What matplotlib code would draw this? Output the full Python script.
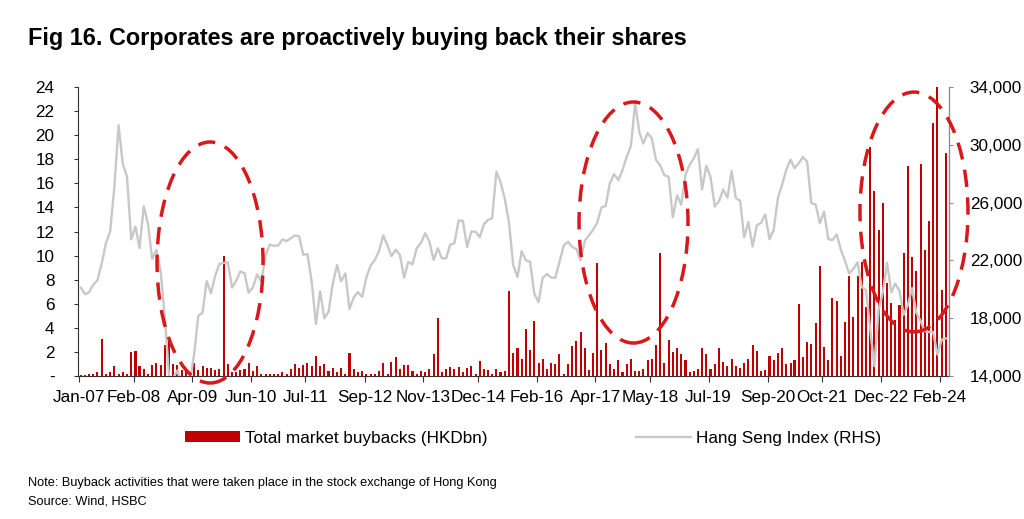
import numpy as np
import pandas as pd
import matplotlib
matplotlib.use("Agg")
import matplotlib.pyplot as plt
import matplotlib.ticker as mticker
import matplotlib.dates as mdates
from matplotlib.patches import Ellipse

plt.rcParams['font.family'] = ['Liberation Sans', 'DejaVu Sans']

# monthly data, Jan-07 .. Mar-24 (mid-month positions)
months = pd.date_range('2007-01-01', '2024-03-01', freq='MS') + pd.Timedelta(days=14)

# total market buybacks, HKD bn
buybacks = [
    0.1, 0.1, 0.15, 0.2, 0.35, 3.1, 0.2, 0.3, 0.8, 0.2, 0.3, 0.2,      # 2007
    2.0, 2.1, 0.8, 0.6, 0.2, 0.9, 1.1, 0.9, 2.6, 3.0, 1.0, 0.9,        # 2008
    0.5, 0.55, 0.1, 1.1, 0.5, 0.8, 0.7, 0.7, 0.5, 0.6, 10.0, 1.0,      # 2009
    0.3, 0.3, 0.5, 0.6, 1.1, 0.45, 0.8, 0.2, 0.15, 0.2, 0.15, 0.2,     # 2010
    0.3, 0.2, 0.55, 1.0, 0.7, 0.9, 1.1, 0.8, 1.7, 0.8, 1.0, 0.45,      # 2011
    0.7, 0.35, 0.7, 0.2, 1.9, 0.6, 0.3, 0.45, 0.2, 0.2, 0.2, 0.45,     # 2012
    1.05, 0.2, 1.15, 1.6, 0.6, 0.95, 0.95, 0.4, 0.2, 0.4, 0.3, 0.55,   # 2013
    1.86, 4.85, 0.3, 0.6, 0.75, 0.6, 0.75, 0.3, 0.7, 0.8, 0.2, 1.25,   # 2014
    0.55, 0.5, 0.2, 0.6, 0.35, 0.4, 7.05, 1.95, 2.3, 1.4, 3.9, 2.2,    # 2015
    4.6, 1.05, 1.4, 0.55, 1.05, 1.0, 1.8, 0.2, 1.0, 2.5, 2.9, 3.65,    # 2016
    2.3, 0.5, 1.95, 9.35, 2.15, 2.7, 1.0, 0.6, 1.35, 0.3, 1.0, 1.45,   # 2017
    0.4, 0.4, 0.6, 1.35, 1.45, 2.6, 10.2, 1.05, 3.0, 2.0, 2.3, 1.8,    # 2018
    1.3, 0.3, 0.4, 0.6, 2.35, 1.8, 0.6, 1.0, 2.3, 1.2, 0.8, 1.45,      # 2019
    0.8, 0.65, 1.1, 1.4, 2.6, 2.1, 0.45, 0.5, 1.65, 1.3, 1.9, 2.35,    # 2020
    1.0, 1.05, 1.3, 6.0, 1.55, 2.85, 2.65, 4.4, 9.1, 2.4, 1.3, 6.45,   # 2021
    6.2, 1.65, 4.5, 8.3, 4.9, 8.3, 9.5, 5.7, 19.05, 15.4, 12.1, 14.35, # 2022
    7.75, 6.1, 4.65, 5.9, 10.2, 17.45, 9.9, 8.75, 17.6, 10.5, 12.9, 21.05,  # 2023
    24.0, 7.15, 18.5,                                                  # 2024
]

# Hang Seng Index, month end
hsi = [
    20107, 19652, 19801, 20319, 20634, 21773, 23185, 23984, 27143, 31352, 28643, 27813,
    23456, 24332, 22849, 25755, 24533, 22102, 22731, 21262, 18016, 13969, 13888, 14387,
    13278, 12812, 13576, 15521, 18171, 18379, 20573, 19724, 20955, 21753, 21821, 21873,
    20122, 20609, 21239, 21108, 19765, 20129, 21029, 20536, 22358, 23096, 23007, 23035,
    23447, 23338, 23528, 23720, 23684, 22398, 22440, 20535, 17592, 19864, 17989, 18434,
    20390, 21680, 20556, 21095, 18630, 19441, 19796, 19483, 20840, 21642, 22030, 22657,
    23730, 23020, 22300, 22737, 22392, 20803, 21883, 21731, 22860, 23206, 23881, 23306,
    22035, 22837, 22151, 22134, 23082, 23191, 24757, 24742, 22933, 23998, 23987, 23605,
    24507, 24823, 24901, 28133, 27424, 26250, 24636, 21671, 20846, 22640, 21996, 21914,
    19683, 19112, 20777, 21067, 20815, 20794, 21891, 23023, 23297, 22935, 22790, 22001,
    23361, 23741, 24112, 24615, 25661, 25765, 27324, 27970, 27554, 28246, 29177, 29919,
    32887, 30845, 30093, 30808, 30469, 28955, 28583, 27889, 27789, 24980, 26507, 25846,
    27942, 28633, 29051, 29699, 26901, 28543, 27778, 25725, 26092, 26907, 26346, 28190,
    26313, 26130, 23603, 24644, 22961, 24427, 24595, 25177, 23459, 24107, 26341, 27231,
    28284, 28980, 28378, 28725, 29152, 28828, 25961, 25879, 24576, 25377, 23475, 23398,
    23802, 22713, 21997, 21089, 21415, 21860, 20157, 19954, 17223, 14687, 18597, 19781,
    21842, 19786, 20400, 19895, 18234, 18916, 20079, 18382, 17810, 17112, 17043, 17047,
    15485, 16511, 16600,
]

tick_months = ['2007-01', '2008-02', '2009-04', '2010-06', '2011-07', '2012-09',
               '2013-11', '2014-12', '2016-02', '2017-04', '2018-05', '2019-07',
               '2020-09', '2021-10', '2022-12', '2024-02']

fig = plt.figure(figsize=(10.24, 5.19), dpi=100)
ax = fig.add_axes([78/1024, 1-376/519, 871/1024, 289/519])
ax2 = ax.twinx()

ax.bar(months, buybacks, width=15, color='#C00000', linewidth=0,
       label='Total market buybacks (HKDbn)')
ax2.plot(months, hsi, color='#C8C8C8', lw=1.7, label='Hang Seng Index (RHS)')

ax.set_xlim(pd.Timestamp('2006-12-25'), pd.Timestamp('2024-04-08'))
ax.set_ylim(0, 24)
ax2.set_ylim(14000, 34000)

ax.set_yticks(np.arange(0, 25, 2))
ax.yaxis.set_major_formatter(mticker.FuncFormatter(lambda v, p: '-' if v == 0 else '%d' % v))
ax2.set_yticks(np.arange(14000, 34001, 4000))
ax2.yaxis.set_major_formatter(mticker.FuncFormatter(lambda v, p: '{:,.0f}'.format(v)))

ax.set_xticks([pd.Timestamp(m + '-01') for m in tick_months])
ax.xaxis.set_major_formatter(mdates.DateFormatter('%b-%y'))

for a in (ax, ax2):
    a.spines['top'].set_visible(False)
ax.spines['left'].set_color('#333333')
ax.spines['bottom'].set_color('#333333')
ax2.spines['right'].set_color('#8c8c8c')
ax2.spines['left'].set_visible(False)
ax2.spines['bottom'].set_visible(False)

ax.tick_params(axis='y', direction='out', length=3, width=0.8, pad=14, labelsize=12.3, colors='#333333', labelcolor='black')
ax.tick_params(axis='x', direction='out', length=4, width=0.8, pad=6, labelsize=12.3, colors='#333333', labelcolor='black')
ax2.tick_params(axis='y', direction='out', length=3, width=0.8, pad=12, labelsize=12.3, colors='#8c8c8c', labelcolor='black')

# dashed highlight ellipses
for cx, cy, w, h in [(0.1516, 0.3927, 0.1217, 0.834),
                     (0.6378, 0.5311, 0.1251, 0.834),
                     (0.9598, 0.5675, 0.124, 0.830)]:
    e = Ellipse((cx, cy), w, h, transform=ax.transAxes, fill=False,
                edgecolor='#D7191C', lw=2.5, linestyle=(0, (5, 3)),
                clip_on=False, zorder=10)
    ax2.add_patch(e)

h1, l1 = ax.get_legend_handles_labels()
h2, l2 = ax2.get_legend_handles_labels()
fig.legend(h1 + h2, l1 + l2, loc='center left', bbox_to_anchor=(185/1024, 1-438/519),
           ncol=2, frameon=False, fontsize=12.3, handlelength=3.2, handleheight=0.6,
           handletextpad=0.3, columnspacing=8.7, borderpad=0, borderaxespad=0)

fig.text(28/1024, 1-45/519, 'Fig 16. Corporates are proactively buying back their shares',
         fontsize=16.8, fontweight='bold', va='baseline', ha='left')
fig.text(28/1024, 1-486/519, 'Note: Buyback activities that were taken place in the stock exchange of Hong Kong',
         fontsize=9.2, va='baseline', ha='left')
fig.text(28/1024, 1-504/519, 'Source: Wind, HSBC', fontsize=9.2, va='baseline', ha='left')

fig.savefig('out.png', dpi=100)
